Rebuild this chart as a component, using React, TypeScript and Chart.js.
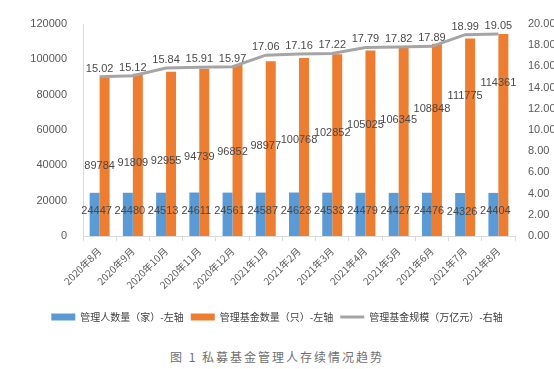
import React, { useEffect, useRef } from "react";
import { Chart, registerables } from "chart.js";

Chart.register(...registerables);

const categories = [
  "2020年8月", "2020年9月", "2020年10月", "2020年11月", "2020年12月",
  "2021年1月", "2021年2月", "2021年3月", "2021年4月", "2021年5月",
  "2021年6月", "2021年7月", "2021年8月",
];
const managerCounts = [24447, 24480, 24513, 24611, 24561, 24587, 24623, 24533, 24479, 24427, 24476, 24326, 24404];
const fundCounts = [89784, 91809, 92955, 94739, 96852, 98977, 100768, 102852, 105025, 106345, 108848, 111775, 114361];
const fundScale = [15.02, 15.12, 15.84, 15.91, 15.97, 17.06, 17.16, 17.22, 17.79, 17.82, 17.89, 18.99, 19.05];

const seriesNames = ["管理人数量（家）-左轴", "管理基金数量（只）-左轴", "管理基金规模（万亿元）-右轴"];
const caption = "图 1 私募基金管理人存续情况趋势";

const NUM_FONT = '"Liberation Sans", Arial, sans-serif';
const CJK_FONT = '"Noto Sans CJK SC", "Liberation Sans", sans-serif';

const labelPlugin = {
  id: "valueLabels",
  afterDatasetsDraw(chart: any) {
    const ctx = chart.ctx;
    const xs = chart.scales.x;
    const ys = chart.scales.y;
    ctx.save();
    ctx.font = "11px " + NUM_FONT;
    ctx.fillStyle = "#4a4a4a";
    ctx.textAlign = "center";
    ctx.textBaseline = "middle";
    const m0 = chart.getDatasetMeta(0);
    m0.data.forEach((el: any, i: number) => {
      const cx = xs.getPixelForValue(i) - 3;
      const cy = (el.y + el.base) / 2 - 3;
      ctx.fillText(String(managerCounts[i]), cx, cy);
    });
    const m1 = chart.getDatasetMeta(1);
    m1.data.forEach((el: any, i: number) => {
      const v = fundCounts[i];
      const d = (v - fundCounts[0]) / 1000;
      const anchor = 39429 + 886.2 * d + 42.46 * d * d;
      const cx = xs.getPixelForValue(i);
      ctx.fillText(String(v), cx, ys.getPixelForValue(anchor));
    });
    const m2 = chart.getDatasetMeta(2);
    m2.data.forEach((el: any, i: number) => {
      ctx.fillText(fundScale[i].toFixed(2), el.x, el.y - 8);
    });
    ctx.restore();
  },
};

export default function App() {
  const ref = useRef<HTMLCanvasElement>(null);
  useEffect(() => {
    document.body.style.margin = "0";
    document.body.style.background = "#ffffff";
    const chart = new Chart(ref.current as HTMLCanvasElement, {
      type: "bar",
      data: {
        labels: categories,
        datasets: [
          {
            type: "bar",
            label: seriesNames[0],
            data: managerCounts,
            backgroundColor: "#5B9BD5",
            yAxisID: "y",
            order: 1,
            pointStyle: "rect",
            categoryPercentage: 0.6,
            barPercentage: 1,
          },
          {
            type: "bar",
            label: seriesNames[1],
            data: fundCounts,
            backgroundColor: "#ED7D31",
            yAxisID: "y",
            order: 2,
            pointStyle: "rect",
            categoryPercentage: 0.6,
            barPercentage: 1,
          },
          {
            type: "line",
            label: seriesNames[2],
            data: fundScale,
            borderColor: "#A5A5A5",
            backgroundColor: "#A5A5A5",
            borderWidth: 3,
            pointRadius: 0,
            tension: 0,
            yAxisID: "y1",
            order: 0,
            pointStyle: "line",
            clip: false,
          },
        ] as any,
      },
      options: {
        responsive: false,
        animation: false,
        layout: { padding: { top: 24, left: 0, right: 0, bottom: 8 } },
        plugins: {
          tooltip: { enabled: false },
          legend: {
            position: "bottom",
            labels: {
              usePointStyle: true,
              pointStyleWidth: 24,
              boxWidth: 24,
              boxHeight: 7,
              padding: 7,
              color: "#404040",
              font: { size: 10, family: CJK_FONT },
              sort: (a: any, b: any) => a.datasetIndex - b.datasetIndex,
            },
          },
        },
        scales: {
          x: {
            grid: { display: true, drawOnChartArea: false, offset: true, tickLength: 5, color: "#D9D9D9" },
            border: { display: true, color: "#D9D9D9" },
            ticks: {
              minRotation: 45,
              maxRotation: 45,
              autoSkip: false,
              color: "#595959",
              font: { size: 10, family: CJK_FONT },
              padding: 4,
            },
            afterFit: (s: any) => { s.height = 69; },
          },
          y: {
            position: "left",
            min: 0,
            max: 120000,
            grid: { display: false },
            border: { display: true, color: "#D9D9D9" },
            ticks: {
              stepSize: 20000,
              color: "#595959",
              padding: 8,
              font: { size: 11, family: NUM_FONT },
              callback: (v: any) => String(v),
            },
            afterFit: (s: any) => { s.width = 83; },
          },
          y1: {
            position: "right",
            min: 0,
            max: 20,
            grid: { display: false },
            border: { display: false },
            ticks: {
              stepSize: 2,
              color: "#595959",
              padding: 5,
              font: { size: 11, family: NUM_FONT },
              callback: (v: any) => Number(v).toFixed(2),
            },
            afterFit: (s: any) => { s.width = 39; },
          },
        },
      },
      plugins: [labelPlugin],
    } as any);
    return () => chart.destroy();
  }, []);
  return (
    <div style={{ position: "relative", width: 554, height: 369, background: "#fff" }}>
      <canvas ref={ref} width={554} height={340} style={{ position: "absolute", left: 0, top: 0 }} />
      <div
        style={{
          position: "absolute",
          left: 0,
          top: 348,
          width: 554,
          textAlign: "center",
          fontFamily: CJK_FONT,
          fontSize: 12,
          letterSpacing: 2,
          color: "#707070",
        }}
      >
        {caption}
      </div>
    </div>
  );
}
